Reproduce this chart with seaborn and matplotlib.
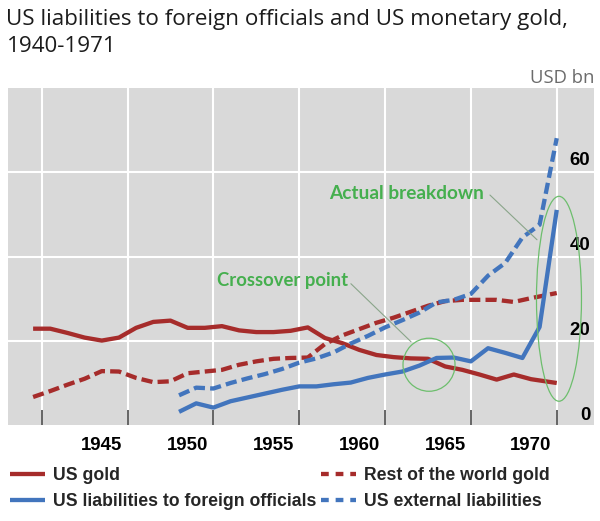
import numpy as np
import pandas as pd
import matplotlib
matplotlib.use("Agg")
import matplotlib.pyplot as plt
import matplotlib.transforms as mtransforms
from matplotlib.patches import Ellipse
from matplotlib.lines import Line2D
import seaborn as sns

# ---------------- data (USD bn) ----------------
GOLD_YEARS = list(range(1941, 1972))
US_GOLD = [23.0, 23.0, 22.0, 20.9, 20.2, 20.9, 23.2, 24.6, 24.9, 23.2,
           23.2, 23.6, 22.6, 22.2, 22.2, 22.5, 23.3, 20.8, 19.6, 18.0,
           16.8, 16.3, 16.0, 15.9, 14.1, 13.3, 12.2, 11.0, 12.2, 11.1, 10.2]
ROW_GOLD = [6.9, 8.3, 9.8, 11.2, 13.0, 12.9, 11.4, 10.4, 10.6, 12.5,
            12.9, 13.3, 14.5, 15.3, 15.9, 16.1, 16.2, 19.4, 21.4, 22.9,
            24.4, 25.6, 27.0, 28.4, 29.5, 29.8, 29.8, 29.8, 29.3, 30.2, 31.4]
LIAB_YEARS = list(range(1949, 1972))
US_LIAB_OFFICIALS = [3.4, 5.4, 4.4, 5.9, 6.8, 7.7, 8.6, 9.4, 9.4, 9.9,
                     10.3, 11.4, 12.2, 12.9, 14.3, 16.1, 16.2, 15.3, 18.4,
                     17.3, 16.1, 23.4, 51.0]
US_EXT_LIAB = [7.3, 9.1, 8.9, 10.2, 11.3, 12.3, 13.5, 15.0, 16.0, 17.4,
               19.5, 21.3, 23.3, 25.0, 26.8, 29.2, 29.8, 31.2, 35.5, 38.5,
               44.5, 47.5, 67.9]
X_LABELS = ["1945", "1950", "1955", "1960", "1965", "1970"]
Y_LABELS = [0, 20, 40, 60]
SERIES_NAMES = ["US gold", "US liabilities to foreign officials",
                "Rest of the world gold", "US external liabilities"]

# gold stocks are mid-year observations, the last one is end-1971
gold_x = np.array(GOLD_YEARS, dtype=float) - 0.5
gold_x[-1] = GOLD_YEARS[-1]
liab_x = np.array(LIAB_YEARS, dtype=float)

gold_df = pd.DataFrame({"x": gold_x, "US gold": US_GOLD, "RoW": ROW_GOLD})
liab_df = pd.DataFrame({"x": liab_x, "off": US_LIAB_OFFICIALS, "ext": US_EXT_LIAB})

# ---------------- style ----------------
sns.set_theme(style="white")
plt.rcParams["font.family"] = ["Liberation Sans", "DejaVu Sans"]

RED = "#A62C2B"
BLUE = "#4275BD"
GREEN = "#45AF4E"
BG = "#D9D9D9"

W, H = 600, 521
fig = plt.figure(figsize=(W / 100, H / 100), dpi=100)
fig.patch.set_facecolor("white")


def fx(px):
    return px / W


def fy(py):
    return 1 - py / H


ax = fig.add_axes([fx(8.3), fy(425), fx(594) - fx(8.3), fy(87.7) - fy(425)])
ax.set_facecolor(BG)
for s in ax.spines.values():
    s.set_visible(False)

LW = 3.1
DASH = (2.6, 1.2)
sns.lineplot(data=gold_df, x="x", y="US gold", ax=ax, color=RED, lw=LW)
sns.lineplot(data=gold_df, x="x", y="RoW", ax=ax, color=RED, lw=LW)
ax.lines[-1].set_dashes(DASH)
sns.lineplot(data=liab_df, x="x", y="off", ax=ax, color=BLUE, lw=LW)
sns.lineplot(data=liab_df, x="x", y="ext", ax=ax, color=BLUE, lw=LW)
ax.lines[-1].set_dashes(DASH)
for ln in ax.lines:
    ln.set_solid_capstyle("butt")
    ln.set_dash_capstyle("butt")
    ln.set_solid_joinstyle("round")

ax.set_xlim(1939.055, 1973.17)
ax.set_ylim(0.3, 79.8)
ax.set_xlabel("")
ax.set_ylabel("")

TICK_FS = 13.4
# x axis: gridlines / ticks every 5 years, labels centred between
ax.set_xticks(np.arange(1941, 1972, 5))
ax.set_xticklabels([])
ax.set_xticks(np.arange(1944.5, 1970, 5), minor=True)
ax.set_xticklabels(X_LABELS, minor=True, fontweight="bold")
ax.tick_params(axis="x", which="major", direction="in", length=10.8, width=1.1,
               color="#3a3a3a", bottom=True)
ax.tick_params(axis="x", which="minor", length=0, pad=8.5, labelsize=TICK_FS,
               labelcolor="black")

ax.set_yticks(Y_LABELS[1:])
ax.set_yticklabels([])
ax.tick_params(axis="y", length=0)
ax.grid(True, which="major", color="white", lw=1.5)
ax.set_axisbelow(True)

# y labels inside the panel, above their gridlines
ytr = mtransforms.offset_copy(
    mtransforms.blended_transform_factory(ax.transAxes, ax.transData),
    fig=fig, x=0, y=4.5, units="points")
for v in Y_LABELS:
    ax.text(0.9935, v, str(v), transform=ytr, ha="right", va="baseline",
            fontsize=TICK_FS, fontweight="bold", color="black")

# ---------------- annotations ----------------
ax.add_patch(Ellipse((1963.56, 14.5), 3.03, 12.5, fill=False,
                     edgecolor="#6DBE6D", lw=0.9, zorder=5))
ax.add_patch(Ellipse((1971.13, 30.05), 2.62, 48.3, fill=False,
                     edgecolor="#6DBE6D", lw=0.9, zorder=5))
ax.plot([1959.01, 1962.51], [33.6, 19.93], color="#8AA58A", lw=0.8, zorder=5)
ax.plot([1967.11, 1969.85], [54.5, 43.96], color="#8AA58A", lw=0.8, zorder=5)

fig.canvas.draw()
renderer = fig.canvas.get_renderer()


def fit(t, width_px):
    w = t.get_window_extent(renderer).width
    t.set_fontsize(t.get_fontsize() * width_px / w)


t_ab = fig.text(fx(329), fy(199.3), "Actual breakdown", ha="left", va="baseline",
                color=GREEN, fontsize=12, fontweight="bold", family=["Lato", "DejaVu Sans"])
t_cp = fig.text(fx(217), fy(286), "Crossover point", ha="left", va="baseline",
                color=GREEN, fontsize=12, fontweight="bold", family=["Lato", "DejaVu Sans"])
fit(t_ab, 154)
fit(t_cp, 130.5)

# ---------------- titles ----------------
t1 = fig.text(fx(6.5), fy(25), "US liabilities to foreign officials and US monetary gold,",
              ha="left", va="baseline", fontsize=15, color="#1c1c1c",
              family=["Open Sans", "DejaVu Sans"])
fit(t1, 561)
fig.text(fx(6.5), fy(51.7), "1940-1971", ha="left", va="baseline",
         fontsize=t1.get_fontsize(), color="#1c1c1c", family=["Open Sans", "DejaVu Sans"])
t_u = fig.text(fx(594), fy(83.3), "USD bn", ha="right", va="baseline", fontsize=13,
               color="#6b6b6b", family=["Open Sans", "DejaVu Sans"])
fit(t_u, 64)

# legend font size chosen so the longest label spans the same width as in the source
probe = fig.text(0, 0, SERIES_NAMES[1], fontsize=13, fontweight="bold")
w_probe = probe.get_window_extent(renderer).width
LEG_FS = 13 * 262 / w_probe
probe.remove()

# ---------------- legend ----------------
handles = [
    Line2D([], [], color=RED, lw=LW, solid_capstyle="butt"),
    Line2D([], [], color=BLUE, lw=LW, solid_capstyle="butt"),
    Line2D([], [], color=RED, lw=LW, dashes=(1.8, 1.6), dash_capstyle="butt"),
    Line2D([], [], color=BLUE, lw=LW, dashes=(1.8, 1.6), dash_capstyle="butt"),
]
hl_px, htp_px, cs_px = 35, 8, 5
pt_px = 100 / 72
fig.legend(handles, SERIES_NAMES, ncol=2, loc="upper left",
           bbox_to_anchor=(fx(10), fy(467)), frameon=False, borderpad=0,
           borderaxespad=0,
           handlelength=hl_px / (LEG_FS * pt_px),
           handletextpad=htp_px / (LEG_FS * pt_px),
           columnspacing=cs_px / (LEG_FS * pt_px),
           labelspacing=0.52,
           prop={"size": LEG_FS, "weight": "bold"})

fig.savefig("out.png", dpi=100, facecolor="white")
